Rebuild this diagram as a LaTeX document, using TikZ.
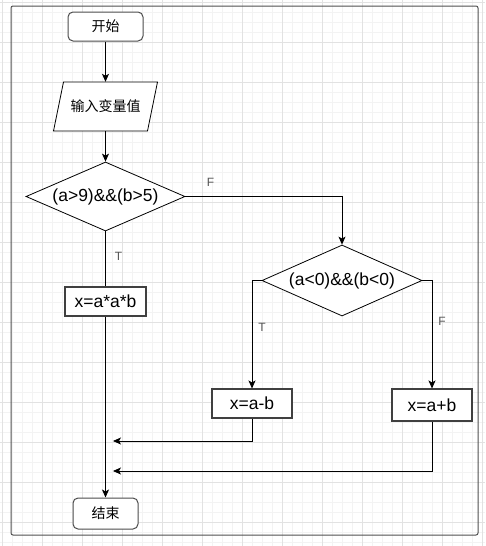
\documentclass[tikz,border=0pt]{standalone}
\usepackage{fontspec}
\setmainfont{Liberation Sans}
\newfontfamily\cjk{Noto Sans CJK SC}
\usepackage{tikz}
\usetikzlibrary{arrows.meta, shapes.geometric, calc, positioning}
\definecolor{gridminor}{HTML}{F3F3F3}
\definecolor{gridmajor}{HTML}{E2E2E2}
\definecolor{frame}{HTML}{505050}
\definecolor{lbl}{HTML}{555555}

\begin{document}
\begin{tikzpicture}[
	x=1pt, y=-1pt,
	term/.style={draw=black!70, line width=1pt, rounded corners=5pt, fill=white, inner sep=0pt, font=\cjk\fontsize{14}{16}\selectfont},
	io/.style={inner sep=0pt, minimum width=94pt, minimum height=49pt, font=\cjk\fontsize{14}{16}\selectfont},
	decision/.style={diamond, aspect=2.3, draw, line width=0.8pt, fill=white, inner sep=0pt, font=\fontsize{17.5}{20}\selectfont},
	proc/.style={draw=black!75, line width=1.1pt, fill=white, inner sep=0pt, font=\fontsize{17.5}{20}\selectfont},
	flow/.style={draw, line width=0.8pt},
	->,>={Stealth[length=8pt, width=7pt, inset=2pt]},
	tf/.style={inner sep=0pt, text=lbl, font=\fontsize{12}{14}\selectfont}
	]

	% fond quadrillé et cadre
	\useasboundingbox (0,0) rectangle (485,546);
	\fill[white] (0,0) rectangle (485,546);
	\begin{scope}[shift={(2,2)}]
		\draw[-, gridminor, line width=0.6pt, step=10pt] (-2,-2) grid (483,544);
		\draw[-, gridmajor, line width=0.8pt, step=40pt] (-2,-2) grid (483,544);
	\end{scope}
	\draw[-, frame, line width=1pt, rounded corners=2pt] (11,6) rectangle (478,535);

	% Les blocs
	\node[term, minimum width=75pt, minimum height=29pt] (start) at (105.5, 26.5) {开始};
	\coordinate (inputc) at (105.5, 106.5);
	\draw[-, line width=0.8pt, fill=white] ($(inputc)+(-42,-24.5)$) -- ($(inputc)+(52,-24.5)$)
		-- ($(inputc)+(42,24.5)$) -- ($(inputc)+(-52,24.5)$) -- cycle;
	\node[io] (input) at (inputc) {输入变量值};
	\node[decision, minimum width=159pt, minimum height=69pt] (cond1) at (105.5, 196.5) {(a>9)\&\&(b>5)};
	\node[proc, minimum width=81pt, minimum height=29pt] (mul) at (105.5, 301.5) {x=a*a*b};
	\node[decision, minimum width=160pt, minimum height=71pt] (cond2) at (342, 280.5) {(a<0)\&\&(b<0)};
	\node[proc, minimum width=80pt, minimum height=29pt] (sub) at (252, 403.5) {x=a-b};
	\node[proc, minimum width=80pt, minimum height=32pt] (add) at (432, 405) {x=a+b};
	\node[term, minimum width=65pt, minimum height=31pt] (stop) at (105.5, 513.5) {结束};
	\coordinate (back1) at (113, 441);
	\coordinate (back2) at (113, 471);

	% Les liaisons
	\draw[flow] (start) -- (input);
	\draw[flow] (input) -- (cond1);
	\draw[flow, -] (cond1) -- node[tf, pos=0.45, right=9pt] {T} (mul);
	\draw[flow] (mul) -- (stop);
	\draw[flow] (cond1.east) -| node[tf, pos=0.08, above=10pt] {F} (cond2.north);
	\draw[flow] (cond2.west) -| node[tf, pos=0.716, right=6pt] {T} (sub.north);
	\draw[flow] (cond2.east) -| node[tf, pos=0.69, right=6pt] {F} (add.north);
	\draw[flow] (sub.south) |- (back1);
	\draw[flow] (add.south) |- (back2);
\end{tikzpicture}
\end{document}
